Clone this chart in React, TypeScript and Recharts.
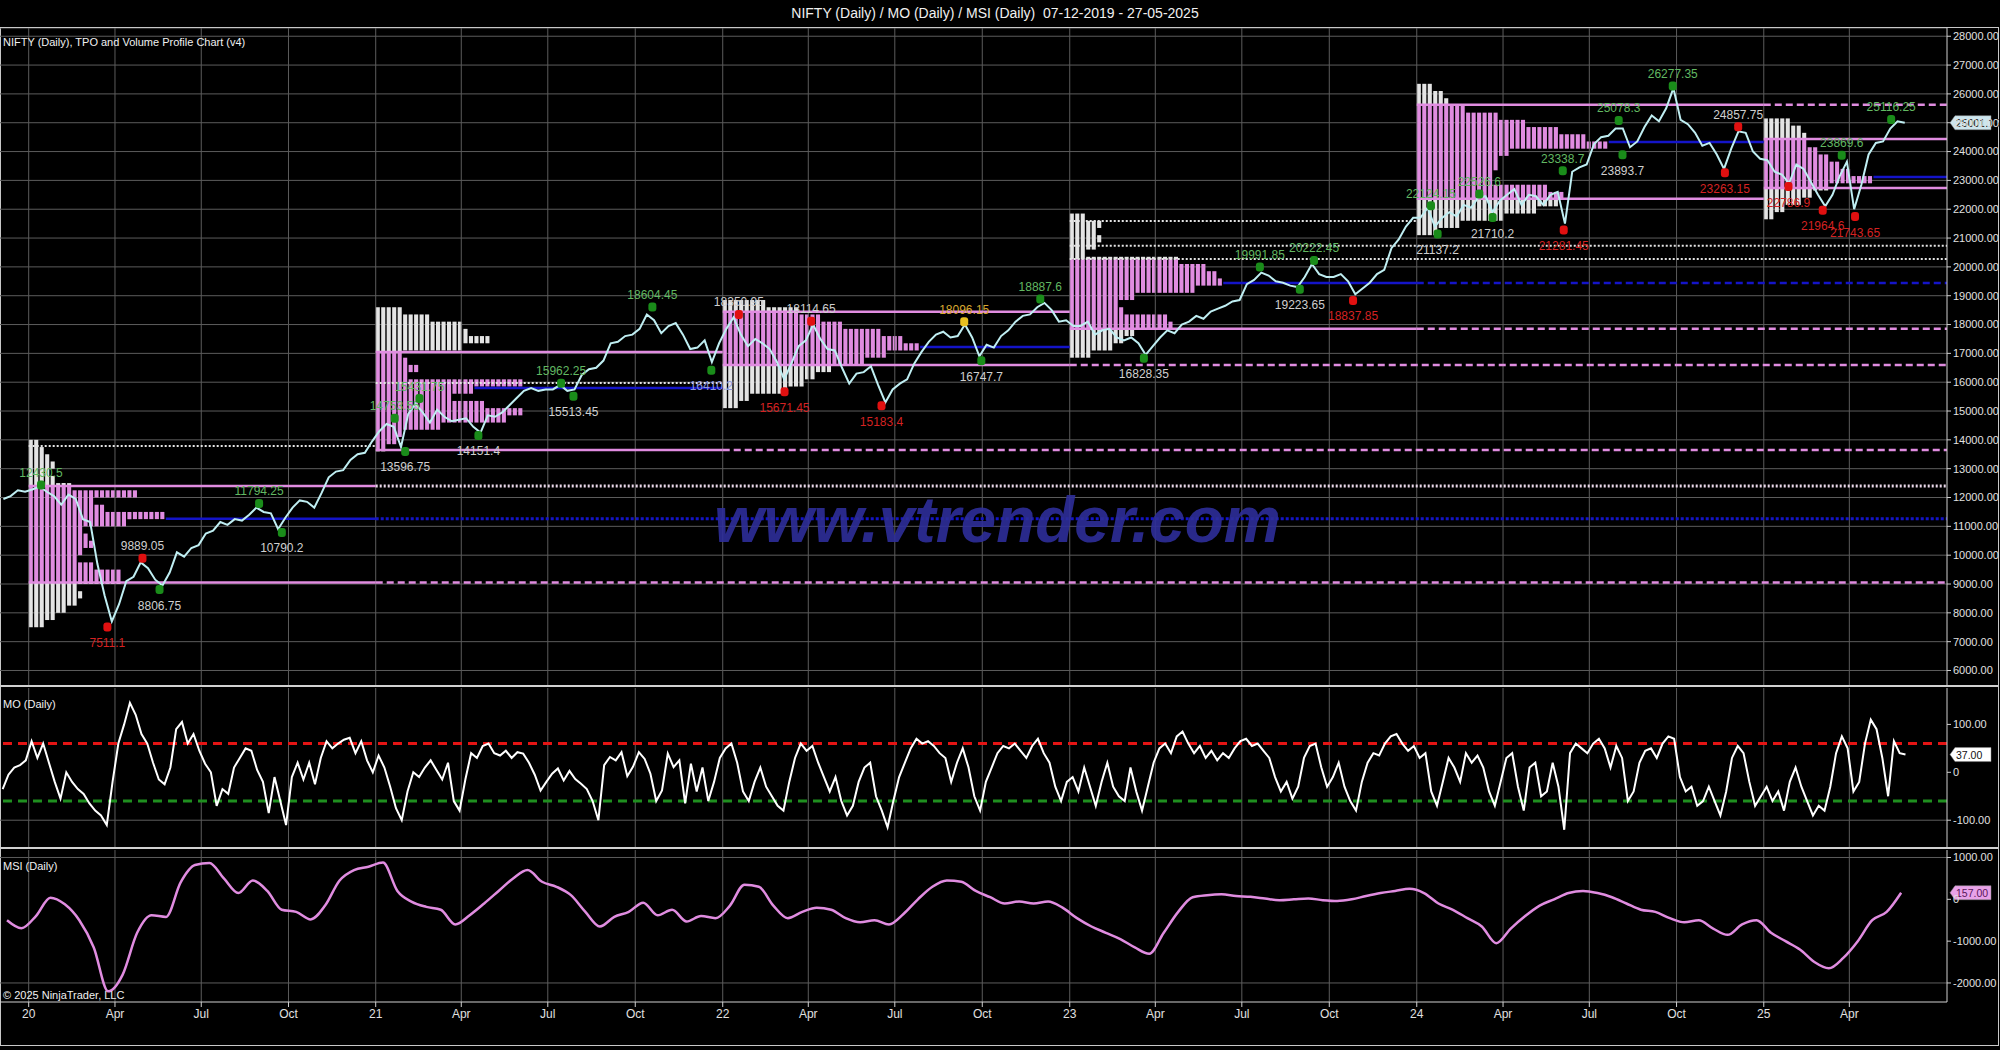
import { LineChart, Line, XAxis, YAxis, CartesianGrid, ReferenceLine, ReferenceArea, ReferenceDot } from 'recharts'

// ---- data ----
// months run from Dec 2019 to May 2025 (66 months)
const firstMonth = { year: 2019, month: 12 }

// NIFTY, 4 readings per month
const priceValues = [
  11950, 12050, 12250, 12200,
  // 2020
  12280, 12380, 12200, 12050, 11750, 12100, 11950, 11250, 11150, 9700, 8600, 7700,
  8300, 9100, 9250, 9750, 9550, 9150, 8950, 9400, 10100, 9950, 10250, 10350,
  10750, 10850, 11150, 11050, 11250, 11200, 11400, 11650, 11500, 11450, 10900, 11300,
  11650, 11900, 11850, 11650, 12150, 12700, 12900, 12950, 13300, 13500, 13550, 13950,
  // 2021
  14300, 14550, 14450, 13750, 14900, 15250, 14950, 14600, 15050, 14800, 14650, 14700,
  14750, 14450, 14250, 14850, 14800, 14950, 15200, 15450, 15700, 15800, 15700, 15750,
  15750, 15900, 15700, 15750, 16250, 16450, 16500, 16750, 17350, 17400, 17600, 17650,
  17850, 18350, 18150, 17700, 17950, 18050, 17650, 17150, 17200, 17450, 16700, 17350,
  // 2022
  17850, 18250, 17650, 17250, 17500, 17350, 17150, 16700, 16100, 16650, 17250, 17450,
  18000, 17500, 17150, 17100, 16500, 15950, 16300, 16350, 16550, 15900, 15300, 15750,
  15950, 16100, 16650, 17050, 17400, 17650, 17750, 17550, 17600, 18000, 17550, 16900,
  17300, 17200, 17600, 17800, 18100, 18300, 18350, 18600, 18750, 18500, 18100, 18150,
  // 2023
  17950, 17950, 18100, 17650, 17800, 17850, 17550, 17450, 17550, 17350, 16950, 17250,
  17550, 17800, 17700, 18000, 18100, 18300, 18200, 18450, 18550, 18650, 18800, 18850,
  19400, 19550, 19800, 19700, 19500, 19450, 19350, 19300, 19650, 20100, 19750, 19650,
  19650, 19750, 19500, 19050, 19250, 19450, 19750, 19900, 20650, 20950, 21400, 21700,
  // 2024
  21700, 22050, 21400, 21700, 21900, 21750, 22150, 22050, 22400, 22450, 21900, 22300,
  22500, 22700, 22150, 22500, 22450, 22150, 22500, 22600, 21500, 23300, 23450, 23550,
  24250, 24500, 24550, 24800, 24800, 24150, 24350, 24850, 25250, 25050, 25500, 26200,
  25100, 24950, 24650, 24200, 24300, 23900, 23400, 24100, 24700, 24650, 24000, 23750,
  // 2025
  23700, 23300, 23200, 22900, 23550, 23400, 22950, 22500, 22100, 22500, 23150, 23650,
  22000, 22850, 23900, 24300, 24350, 24800, 25050, 25000,
]

// MO oscillator, 5 readings per month
const moValues = [
  -35, -5, 10, 15, 25,
  // 2020
  65, 30, 60, 20, -20, -55, 0, -20, -35, -45, -65, -80, -90, -110, -20,
  60, 100, 145, 120, 80, 60, 20, -15, -25, 10, 90, 105, 60, 80, 45,
  18, 0, -70, -35, -45, 10, 30, 50, 45, 5, -20, -85, -10, -60, -110,
  -10, 20, -15, 20, -25, 30, 65, 50, 60, 68, 72, 40, 65, 25, 0,
  // 2021
  35, 10, -30, -75, -100, -40, 0, -10, 10, 25, 5, -15, 20, -60, -80,
  -15, 40, 30, 55, 60, 40, 35, 45, 30, 42, 39, 20, -5, -38, -20,
  -3, 8, -17, 3, -14, -24, -35, -60, -100, 15, 32, 25, 42, -8, 12,
  42, 28, -3, -60, -38, 39, 11, 25, -65, 18, -40, 10, -60, -20, 30,
  // 2022
  50, 60, 20, -40, -60, -20, 10, -30, -50, -70, -80, -20, 30, 60, 45,
  55, 20, -10, -40, -10, -60, -90, -70, -20, 10, 20, -50, -80, -115, -60,
  -10, 20, 50, 70, 60, 65, 55, 40, 30, -20, 20, 50, 10, -50, -80,
  -20, 10, 40, 55, 50, 60, 45, 30, 55, 70, 40, 20, -30, -60, -20,
  // 2023
  -10, -40, 10, -30, -70, -20, 20, -30, -50, -60, 10, -40, -80, -30, 20,
  50, 60, 40, 75, 85, 60, 40, 55, 30, 45, 25, 40, 30, 50, 65,
  70, 55, 60, 45, 30, -10, -40, -20, -55, -30, 30, 55, 60, 10, -30,
  -10, 20, -30, -60, -80, -20, 20, 40, 35, 60, 75, 80, 60, 45, 55,
  // 2024
  30, 40, -40, -70, -20, 30, 10, -20, 40, 20, 35, 10, -40, -70, -20,
  30, 40, -30, -80, 10, 20, -50, -40, 20, -30, -120, 40, 60, 50, 40,
  60, 70, 50, 10, 55, 30, -60, -40, 20, 45, 50, 30, 60, 75, 70,
  -10, -40, -30, -70, -60, -30, -60, -90, -40, 30, 55, 40, -20, -70, -50,
  // 2025
  -30, -60, -40, -80, -20, 10, -30, -60, -90, -70, -80, -30, 40, 75, 50,
  -40, -20, 60, 110, 90, 30, -50, 65, 40, 37,
]

// MSI, 2 readings per month
const msiValues = [
  -500, -690,
  // 2020
  -400, 40, -120, -500, -1150, -2200, -1800, -800, -380, -420, 400, 820,
  870, 500, 150, 450, 200, -250, -300, -480, -150, 450, 700, 780,
  // 2021
  880, 200, -60, -180, -250, -600, -380, -100, 200, 500, 700, 420,
  300, 100, -300, -650, -420, -300, -80, -380, -250, -530, -400, -450,
  // 2022
  -150, 350, 300, -150, -450, -300, -200, -250, -450, -550, -500, -600,
  -350, 0, 300, 450, 420, 200, 50, -100, -50, -100, -50, -200,
  // 2023
  -450, -650, -800, -950, -1150, -1300, -800, -300, 50, 100, 120, 80,
  60, 20, -20, 0, 20, -20, -40, 0, 80, 150, 200, 250,
  // 2024
  150, -100, -250, -450, -650, -1050, -700, -400, -150, 0, 150, 200,
  150, 50, -100, -250, -300, -450, -550, -500, -700, -850, -600, -500,
  // 2025
  -800, -1000, -1200, -1500, -1650, -1400, -1000, -500, -300, 157,
]

// yearly TPO profiles (250 pt rows, TPO count per row, bottom to top)
const profileYears = [2020, 2021, 2022, 2023, 2024, 2025]
const profileBase = [7500, 13600, 15100, 16850, 21100, 21650]
const profileCounts = [
  [3, 5, 7, 9, 10, 9, 17, 17, 12, 9, 10, 12, 11, 10, 18, 25, 14, 12, 20, 8, 5, 4, 5, 4, 3, 2],
  [2, 4, 5, 12, 24, 27, 20, 14, 18, 27, 6, 8, 6, 5, 16, 21, 17, 16, 10, 5],
  [3, 5, 12, 15, 17, 20, 26, 30, 36, 33, 29, 22, 18, 14, 8],
  [4, 8, 10, 12, 19, 18, 10, 9, 12, 23, 28, 27, 25, 20, 3, 5, 6, 5, 6, 3],
  [4, 8, 16, 22, 26, 27, 24, 14, 14, 15, 15, 17, 35, 31, 26, 20, 15, 9, 6, 5, 3],
  [2, 4, 7, 9, 12, 20, 16, 14, 12, 10, 8, 8, 7, 5],
]
const profileVah = [12400, 17050, 18440, 20270, 25620, 24440]
const profileVal = [9050, 13650, 16600, 17850, 22360, 22740]
const profilePoc = [11260, 15800, 17220, 19440, 24330, 23120]

// single-print / naked levels
const nakedPrice = [13790, 15970, 21590, 20730]
const nakedFrom = [2020, 2021, 2023, 2023]
const nakedTo = [2021, 2022, 2024, 0] // 0 = runs to the last bar

// swing labels
const swingDates = [
  '2020-01-14', '2020-03-24', '2020-04-30', '2020-05-18', '2020-08-31', '2020-09-24',
  '2021-01-21', '2021-02-01', '2021-02-16', '2021-04-19', '2021-07-15', '2021-07-28',
  '2021-10-19', '2021-12-20', '2022-01-18', '2022-03-07', '2022-04-04', '2022-06-17',
  '2022-09-12', '2022-09-30', '2022-12-01', '2023-03-20', '2023-07-20', '2023-08-31',
  '2023-09-15', '2023-10-26', '2024-01-16', '2024-01-23', '2024-03-07', '2024-03-21',
  '2024-06-03', '2024-06-04', '2024-08-01', '2024-08-05', '2024-09-27', '2024-11-21',
  '2024-12-05', '2025-01-27', '2025-03-04', '2025-03-24', '2025-04-07', '2025-05-15',
]
const swingPrices = [
  12430.5, 7511.1, 9889.05, 8806.75, 11794.25, 10790.2,
  14753.55, 13596.75, 15431.75, 14151.4, 15962.25, 15513.45,
  18604.45, 16410.2, 18350.95, 15671.45, 18114.65, 15183.4,
  18096.15, 16747.7, 18887.6, 16828.35, 19991.85, 19223.65,
  20222.45, 18837.85, 22124.15, 21137.2, 22526.6, 21710.2,
  23338.7, 21281.45, 25078.3, 23893.7, 26277.35, 23263.15,
  24857.75, 22786.9, 21964.6, 23869.6, 21743.65, 25116.25,
]
// H = swing high, HL = higher low, LH = lower high, LL = lower low, W = warning, N = naked low
const swingKinds = [
  'H', 'LL', 'LH', 'HL', 'H', 'HL',
  'H', 'HL', 'H', 'HL', 'H', 'HL',
  'H', 'N', 'LH', 'LL', 'LH', 'LL',
  'W', 'HL', 'H', 'HL', 'H', 'HL',
  'H', 'LL', 'H', 'HL', 'H', 'HL',
  'H', 'LL', 'H', 'HL', 'H', 'LL',
  'LH', 'LL', 'LL', 'H', 'LL', 'H',
]

const lastPrice = 25001.15
const lastMo = 37
const lastMsi = 157

const priceTicks = [6000, 7000, 8000, 9000, 10000, 11000, 12000, 13000, 14000, 15000, 16000, 17000,
  18000, 19000, 20000, 21000, 22000, 23000, 24000, 25000, 26000, 27000, 28000]
const moTicks = [-100, 0, 100]
const msiTicks = [-2000, -1000, 0, 1000]
const monthNames = ['Jan', 'Feb', 'Mar', 'Apr', 'May', 'Jun', 'Jul', 'Aug', 'Sep', 'Oct', 'Nov', 'Dec']

// ---- helpers ----
const T0 = 2019.9173
const T1 = 2025.528
const BIN = 250
const STEP = 0.0158
const COLW = 0.0118

function monthT(m: number, k: number, n: number) {
  const abs = firstMonth.year * 12 + firstMonth.month - 1 + m
  const y = Math.floor(abs / 12)
  return y + ((abs % 12) + (k + 0.5) / n) / 12
}
function dateT(s: string) {
  const [y, m, d] = s.split('-').map(Number)
  const a = Date.UTC(y, 0, 1)
  const b = Date.UTC(y + 1, 0, 1)
  return y + (Date.UTC(y, m - 1, d) - a) / (b - a)
}

const priceData = priceValues.map((p, i) => ({ t: monthT(Math.floor(i / 4), i % 4, 4), price: p }))
const moData = moValues.map((v, i) => ({ t: monthT(Math.floor(i / 5), i % 5, 5), mo: v }))
const msiData = msiValues.map((v, i) => ({ t: monthT(Math.floor(i / 2), i % 2, 2), msi: v }))

const xTicks: number[] = []
for (let y = 2020; y <= 2025; y++) {
  for (const m of [1, 4, 7, 10]) {
    const t = dateT(`${y}-${String(m).padStart(2, '0')}-01`)
    if (t < 2025.45) xTicks.push(t)
  }
}
const xTickLabel = (t: number) => {
  const y = Math.floor(t + 1e-6)
  const m = Math.round((t - y) * 12)
  return m === 0 ? String(y).slice(2) : monthNames[m]
}

const NARROW = '"Liberation Sans Narrow", "Arial Narrow", "Liberation Sans", Arial, sans-serif'
const PINK = '#e08ce0'
const WHITE = '#e4e4e4'
const BLUE = '#1414c8'
const GRID = '#5c5c5c'

const swingStyle: Record<string, { dot: string; text: string; above: boolean }> = {
  H: { dot: '#1a8c1a', text: '#62b862', above: true },
  HL: { dot: '#1a8c1a', text: '#cfcfcf', above: false },
  LH: { dot: '#e01010', text: '#cfcfcf', above: true },
  LL: { dot: '#e01010', text: '#d42222', above: false },
  W: { dot: '#e8c020', text: '#d8a830', above: true },
  N: { dot: '#1a8c1a', text: '#8f98e0', above: false },
}

function profileAreas(i: number) {
  const start = profileYears[i]
  const counts = profileCounts[i]
  const base = profileBase[i]
  const val = profileVal[i]
  const vah = profileVah[i]
  const out: JSX.Element[] = []
  const push = (k: number, lo: number, hi: number, fill: string) => {
    if (hi - lo < 1) return
    out.push(
      <ReferenceArea key={`p${i}-${k}-${lo}`} x1={start + k * STEP} x2={start + k * STEP + COLW}
        y1={lo} y2={hi} fill={fill} fillOpacity={1} stroke="none" />
    )
  }
  const maxC = Math.max(...counts)
  for (let k = 0; k < maxC; k++) {
    let j = 0
    while (j < counts.length) {
      if (counts[j] > k) {
        const s = j
        while (j < counts.length && counts[j] > k) j++
        const lo = base + s * BIN
        const hi = base + j * BIN
        push(k, lo, Math.min(hi, val), WHITE)
        push(k, Math.max(lo, val), Math.min(hi, vah), PINK)
        push(k, Math.max(lo, vah), hi, WHITE)
      } else j++
    }
  }
  return out
}

function seg(key: string, a: number, b: number, p: number, stroke: string, w: number, dash?: string) {
  return (
    <ReferenceLine key={key} segment={[{ x: a, y: p }, { x: b, y: p }]} stroke={stroke}
      strokeWidth={w} strokeDasharray={dash} />
  )
}

function levelLines() {
  const out: JSX.Element[] = []
  profileYears.forEach((start, i) => {
    const end = i < profileYears.length - 1 ? profileYears[i + 1] : T1
    const pocRow = Math.floor((profilePoc[i] - profileBase[i]) / BIN)
    const pocStart = start + (profileCounts[i][pocRow] || 0) * STEP
    out.push(seg(`vah${i}`, start, end, profileVah[i], i === 3 ? WHITE : PINK, i === 3 ? 2 : 2.5, i === 3 ? '2 2' : undefined))
    out.push(seg(`val${i}`, start, end, profileVal[i], PINK, 2.5))
    out.push(seg(`poc${i}`, pocStart, end, profilePoc[i], BLUE, 2.5))
    if (end < T1) {
      if (i === 0) out.push(seg(`vahx${i}`, end, T1, profileVah[i], '#ead8ea', 3, '2 2'))
      if (i === 3) out.push(seg(`vahx${i}`, end, T1, profileVah[i], WHITE, 2, '2 2'))
      if (i === 4) out.push(seg(`vahx${i}`, end, T1, profileVah[i], PINK, 2.5, '7 4'))
      if (i <= 3) out.push(seg(`valx${i}`, end, T1, profileVal[i], PINK, 2.5, '7 4'))
      if (i === 0) out.push(seg(`pocx${i}`, end, T1, profilePoc[i], BLUE, 3, '3 2'))
      if (i === 3) out.push(seg(`pocx${i}`, end, T1, profilePoc[i], BLUE, 2.5, '7 4'))
    }
  })
  nakedPrice.forEach((p, i) => {
    out.push(seg(`nk${i}`, nakedFrom[i], nakedTo[i] || T1, p, WHITE, 2, '2 2'))
  })
  return out
}

function SwingMark(props: any) {
  const { cx, cy, kind, text } = props
  const st = swingStyle[kind]
  return (
    <g>
      <rect x={cx - 4} y={cy - 4.5} width={8} height={9} rx={3} fill={st.dot} />
      <text x={cx} y={st.above ? cy - 8 : cy + 20} textAnchor="middle" fill={st.text}
        fontSize={12} fontFamily={NARROW}>{text}</text>
    </g>
  )
}

function Tag(props: any) {
  const { cx, cy, text, fill, color } = props
  return (
    <g>
      <polygon points={`${cx + 3},${cy} ${cx + 8},${cy - 7} ${cx + 44},${cy - 7} ${cx + 44},${cy + 7} ${cx + 8},${cy + 7}`}
        fill={fill} stroke="#888" strokeWidth={0.5} />
      <text x={cx + 9} y={cy + 4} fill={color} fontSize={10.5} fontFamily={NARROW}>{text}</text>
    </g>
  )
}

const yTick = { fill: '#e0e0e0', fontSize: 11, fontFamily: NARROW }
const fmt2 = (v: number) => (v === 0 ? '0' : v.toFixed(2))

export default function App() {
  return (
    <div style={{ position: 'fixed', left: 0, top: 0, width: 2000, height: 1050, background: '#000', overflow: 'hidden', fontFamily: NARROW }}>
      <div style={{ position: 'absolute', left: 0, top: 5, width: 1990, textAlign: 'center', color: '#f0f0f0', fontSize: 14, fontFamily: '"Liberation Sans", Arial, sans-serif' }}>
        NIFTY (Daily) / MO (Daily) / MSI (Daily)&nbsp;&nbsp;07-12-2019 - 27-05-2025
      </div>
      <div style={{ position: 'absolute', left: 0, top: 27, width: 1999, height: 1019, border: '1px solid #c8c8c8', boxSizing: 'border-box' }} />

      {/* price panel */}
      <div style={{ position: 'absolute', left: 0, top: 28 }}>
        <LineChart width={2000} height={658} data={priceData} margin={{ top: 0, right: 0, bottom: 0, left: 0 }}>
          <CartesianGrid stroke={GRID} vertical={false} />
          <XAxis type="number" dataKey="t" domain={[T0, T1]} ticks={xTicks} hide allowDataOverflow />
          <YAxis orientation="right" type="number" domain={[5462, 28286]} ticks={priceTicks} interval={0}
            tickFormatter={fmt2} width={53} tick={yTick} stroke="#cfcfcf" tickSize={4} allowDataOverflow />
          {xTicks.map((t) => <ReferenceLine key={`vg${t}`} x={t} stroke={GRID} />)}
          {profileYears.map((_, i) => profileAreas(i))}
          {levelLines()}
          <Line type="linear" dataKey="price" stroke="#bfeef2" strokeWidth={2} dot={false} isAnimationActive={false} />
          {swingDates.map((d, i) => (
            <ReferenceDot key={`sw${i}`} x={dateT(d)} y={swingPrices[i]}
              shape={(p: any) => <SwingMark {...p} kind={swingKinds[i]} text={String(swingPrices[i])} />} />
          ))}
          <ReferenceDot x={T1} y={lastPrice} shape={(p: any) => <Tag {...p} text={lastPrice.toFixed(2)} fill="#cde6ee" color="#111" />} />
        </LineChart>
      </div>
      <div style={{ position: 'absolute', left: 3, top: 36, color: '#f0f0f0', fontSize: 11 }}>NIFTY (Daily), TPO and Volume Profile Chart (v4)</div>
      <div style={{ position: 'absolute', left: 714, top: 488, width: 560, textAlign: 'center', color: '#2e2e9a', opacity: 0.9, fontSize: 64, fontWeight: 'bold', fontStyle: 'italic', fontFamily: '"Liberation Sans", Arial, sans-serif', lineHeight: 1 }}>
        www.vtrender.com
      </div>
      <div style={{ position: 'absolute', left: 0, top: 685, width: 1998, height: 2, background: '#d0d0d0' }} />

      {/* MO panel */}
      <div style={{ position: 'absolute', left: 0, top: 688 }}>
        <LineChart width={2000} height={160} data={moData} margin={{ top: 0, right: 0, bottom: 0, left: 0 }}>
          <XAxis type="number" dataKey="t" domain={[T0, T1]} hide allowDataOverflow />
          <YAxis orientation="right" type="number" domain={[-158, 176]} ticks={moTicks} interval={0}
            tickFormatter={fmt2} width={53} tick={yTick} stroke="#cfcfcf" tickSize={4} allowDataOverflow />
          {xTicks.map((t) => <ReferenceLine key={`vg${t}`} x={t} stroke={GRID} />)}
          <ReferenceLine y={-100} stroke={GRID} />
          <ReferenceLine y={60} stroke="#e41414" strokeWidth={3} strokeDasharray="9 6" />
          <ReferenceLine y={-60} stroke="#1f8f1f" strokeWidth={3} strokeDasharray="9 6" />
          <Line type="linear" dataKey="mo" stroke="#ffffff" strokeWidth={2} dot={false} isAnimationActive={false} />
          <ReferenceDot x={T1} y={lastMo} shape={(p: any) => <Tag {...p} text={lastMo.toFixed(2)} fill="#ffffff" color="#111" />} />
        </LineChart>
      </div>
      <div style={{ position: 'absolute', left: 3, top: 698, color: '#f0f0f0', fontSize: 11 }}>MO (Daily)</div>
      <div style={{ position: 'absolute', left: 0, top: 847, width: 1998, height: 2, background: '#d0d0d0' }} />

      {/* MSI panel + time axis */}
      <div style={{ position: 'absolute', left: 0, top: 850 }}>
        <LineChart width={2000} height={182} data={msiData} margin={{ top: 0, right: 0, bottom: 0, left: 0 }}>
          <XAxis type="number" dataKey="t" domain={[T0, T1]} ticks={xTicks} interval={0} tickFormatter={xTickLabel}
            height={30} tick={{ fill: '#e0e0e0', fontSize: 12, fontFamily: NARROW }} stroke="#d0d0d0" tickSize={5} allowDataOverflow />
          <YAxis orientation="right" type="number" domain={[-2455, 1179]} ticks={msiTicks} interval={0}
            tickFormatter={fmt2} width={53} tick={yTick} stroke="#cfcfcf" tickSize={4} allowDataOverflow />
          {xTicks.map((t) => <ReferenceLine key={`vg${t}`} x={t} stroke={GRID} />)}
          <ReferenceLine y={1000} stroke={GRID} />
          <ReferenceLine y={-2000} stroke={GRID} />
          <Line type="monotone" dataKey="msi" stroke="#e08ce0" strokeWidth={2.5} dot={false} isAnimationActive={false} />
          <ReferenceDot x={T1} y={lastMsi} shape={(p: any) => <Tag {...p} text={lastMsi.toFixed(2)} fill="#e8a2e8" color="#5a165a" />} />
        </LineChart>
      </div>
      <div style={{ position: 'absolute', left: 3, top: 860, color: '#f0f0f0', fontSize: 11 }}>MSI (Daily)</div>
      <div style={{ position: 'absolute', left: 3, top: 989, color: '#f0f0f0', fontSize: 11 }}>© 2025 NinjaTrader, LLC</div>
    </div>
  )
}
